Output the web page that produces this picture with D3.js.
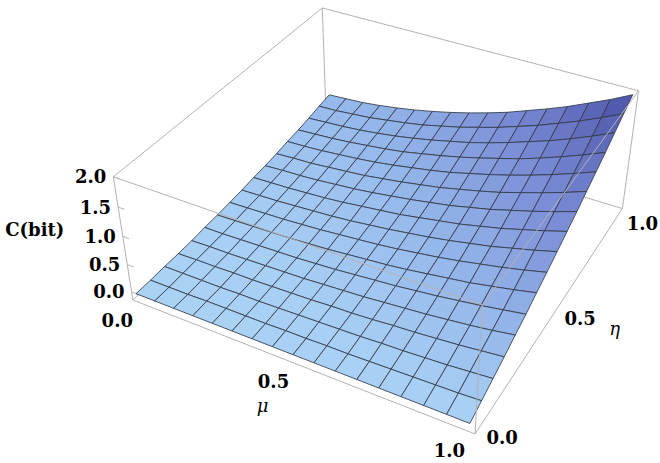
<!DOCTYPE html>
<html>
    <head>
        <meta charset="utf-8" />
        <title>C(bit) surface</title>
        <script src="https://d3js.org/d3.v7.min.js"></script>
        <style>
            body {
                margin: 0;
                background: #fff;
            }
            text {
                font-family: 'DejaVu Serif', serif;
            }
            .tick-label,
            .z-title {
                font-size: 18px;
                font-weight: bold;
            }
            .axis-title {
                font-size: 18px;
                font-style: italic;
            }
            .box-edge {
                fill: none;
                stroke: #b3b3b3;
                stroke-width: 1px;
            }
            .cell {
                stroke: #323a48;
                stroke-width: 0.85px;
                stroke-linejoin: round;
            }
        </style>
    </head>
    <body>
        <script>
            // grid of the surface (17 x 17 nodes)
            const muGrid = [0, 0.0625, 0.125, 0.1875, 0.25, 0.3125, 0.375, 0.4375, 0.5, 0.5625, 0.625, 0.6875, 0.75, 0.8125, 0.875, 0.9375, 1];
            const etaGrid = [0, 0.0625, 0.125, 0.1875, 0.25, 0.3125, 0.375, 0.4375, 0.5, 0.5625, 0.625, 0.6875, 0.75, 0.8125, 0.875, 0.9375, 1];

            // capacity[j][k] = C at eta = etaGrid[j], mu = muGrid[k]
            const capacity = [
                [0, 0, 0, 0, 0, 0, 0, 0, 0, 0, 0, 0, 0, 0, 0, 0, 0],
                [0.0, 0.0, 0.0, 0.01, 0.01, 0.01, 0.01, 0.02, 0.02, 0.03, 0.03, 0.04, 0.05, 0.06, 0.07, 0.08, 0.1],
                [0.01, 0.01, 0.01, 0.01, 0.02, 0.02, 0.03, 0.04, 0.05, 0.06, 0.07, 0.09, 0.1, 0.12, 0.14, 0.17, 0.2],
                [0.01, 0.02, 0.02, 0.03, 0.03, 0.04, 0.05, 0.06, 0.08, 0.09, 0.11, 0.14, 0.16, 0.19, 0.22, 0.26, 0.3],
                [0.02, 0.03, 0.03, 0.04, 0.05, 0.06, 0.07, 0.09, 0.11, 0.13, 0.16, 0.19, 0.22, 0.26, 0.3, 0.35, 0.41],
                [0.04, 0.04, 0.05, 0.06, 0.07, 0.08, 0.1, 0.12, 0.15, 0.18, 0.21, 0.25, 0.29, 0.34, 0.39, 0.45, 0.51],
                [0.05, 0.06, 0.07, 0.08, 0.09, 0.11, 0.13, 0.16, 0.19, 0.22, 0.26, 0.31, 0.36, 0.41, 0.48, 0.55, 0.63],
                [0.07, 0.08, 0.09, 0.1, 0.12, 0.14, 0.17, 0.2, 0.23, 0.27, 0.32, 0.37, 0.43, 0.5, 0.57, 0.65, 0.74],
                [0.09, 0.1, 0.11, 0.13, 0.15, 0.17, 0.2, 0.24, 0.28, 0.33, 0.38, 0.44, 0.51, 0.58, 0.67, 0.76, 0.86],
                [0.12, 0.13, 0.14, 0.16, 0.18, 0.21, 0.25, 0.29, 0.33, 0.39, 0.45, 0.51, 0.59, 0.67, 0.77, 0.87, 0.98],
                [0.14, 0.16, 0.17, 0.19, 0.22, 0.25, 0.29, 0.34, 0.39, 0.45, 0.51, 0.59, 0.67, 0.77, 0.87, 0.98, 1.1],
                [0.17, 0.19, 0.2, 0.23, 0.26, 0.29, 0.34, 0.39, 0.45, 0.51, 0.59, 0.67, 0.76, 0.87, 0.98, 1.1, 1.23],
                [0.21, 0.22, 0.24, 0.27, 0.3, 0.34, 0.39, 0.45, 0.51, 0.58, 0.67, 0.76, 0.86, 0.97, 1.09, 1.22, 1.36],
                [0.24, 0.26, 0.28, 0.31, 0.35, 0.39, 0.44, 0.51, 0.58, 0.66, 0.75, 0.85, 0.95, 1.07, 1.2, 1.34, 1.49],
                [0.28, 0.3, 0.32, 0.35, 0.39, 0.44, 0.5, 0.57, 0.65, 0.73, 0.83, 0.94, 1.06, 1.18, 1.32, 1.47, 1.63],
                [0.33, 0.34, 0.37, 0.4, 0.45, 0.5, 0.56, 0.64, 0.72, 0.82, 0.92, 1.04, 1.16, 1.3, 1.44, 1.6, 1.77],
                [0.37, 0.39, 0.41, 0.45, 0.5, 0.56, 0.63, 0.71, 0.8, 0.9, 1.01, 1.14, 1.27, 1.41, 1.57, 1.73, 1.91]
            ];

            const muTicks = [0, 0.5, 1];
            const etaTicks = [0, 0.5, 1];
            const zTicks = [0, 0.5, 1, 1.5, 2];

            const width = 660,
                height = 463;

            // camera: mathematica default view point, box ratios 1:1:0.4
            const eye = [1.3, -2.4, 2.0];
            const boxRatios = [1, 1, 0.4];
            const zoomFactor = 1262;
            const screenCenter = [389, 194];

            const xBox = d3.scaleLinear().domain([-0.015, 1.015]).range([-boxRatios[0] / 2, boxRatios[0] / 2]);
            const yBox = d3.scaleLinear().domain([0, 1]).range([-boxRatios[1] / 2, boxRatios[1] / 2]);
            const zBox = d3.scaleLinear().domain([-0.15, 2.0]).range([-boxRatios[2] / 2, boxRatios[2] / 2]);

            const dot = (a, b) => a[0] * b[0] + a[1] * b[1] + a[2] * b[2];
            const cross = (a, b) => [a[1] * b[2] - a[2] * b[1], a[2] * b[0] - a[0] * b[2], a[0] * b[1] - a[1] * b[0]];
            const unit = (a) => {
                const n = Math.hypot(a[0], a[1], a[2]);
                return a.map((v) => v / n);
            };

            const forward = unit(eye.map((v) => -v));
            const right = unit(cross(forward, [0, 0, 1]));
            const up = cross(right, forward);

            function project(mu, eta, c) {
                const d = [xBox(mu) - eye[0], yBox(eta) - eye[1], zBox(c) - eye[2]];
                const depth = dot(d, forward);
                return {
                    x: screenCenter[0] + (zoomFactor * dot(d, right)) / depth,
                    y: screenCenter[1] - (zoomFactor * dot(d, up)) / depth,
                    depth: depth
                };
            }

            const color = d3
                .scaleLinear()
                .domain([0, 0.4, 1.0, 1.9])
                .range(['#aad2f5', '#94b6ea', '#7a8cd5', '#4a50a5'])
                .interpolate(d3.interpolateRgb)
                .clamp(true);

            const svg = d3.select('body').append('svg').attr('width', width).attr('height', height);

            const path = d3
                .line()
                .x((p) => p.x)
                .y((p) => p.y);

            // box
            const [m0, m1] = xBox.domain();
            const [e0, e1] = yBox.domain();
            const [z0, z1] = zBox.domain();
            const corners = [
                [m0, e0],
                [m1, e0],
                [m1, e1],
                [m0, e1]
            ];
            const edges = [];
            corners.forEach((a, i) => {
                const b = corners[(i + 1) % 4];
                edges.push([[a[0], a[1], z0], [b[0], b[1], z0]]);
                edges.push([[a[0], a[1], z1], [b[0], b[1], z1]]);
                edges.push([[a[0], a[1], z0], [a[0], a[1], z1]]);
            });
            const isFront = (edge) => edge.some((p) => p[0] === m1 && p[1] === e0);

            function drawEdges(list) {
                svg.append('g')
                    .selectAll('path')
                    .data(list)
                    .join('path')
                    .attr('class', 'box-edge')
                    .attr('d', (edge) => path(edge.map((p) => project(p[0], p[1], p[2]))));
            }

            drawEdges(edges.filter((e) => !isFront(e)));

            // small ticks on the vertical axis
            svg.append('g')
                .selectAll('path')
                .data(zTicks)
                .join('path')
                .attr('class', 'box-edge')
                .attr('d', (c) => path([project(m0, e0, c), project(m0 + 0.02, e0, c)]));

            // surface cells, back to front
            const cells = [];
            for (let j = 0; j < etaGrid.length - 1; j++) {
                for (let k = 0; k < muGrid.length - 1; k++) {
                    const nodes = [
                        [k, j],
                        [k + 1, j],
                        [k + 1, j + 1],
                        [k, j + 1]
                    ];
                    const pts = nodes.map(([a, b]) => project(muGrid[a], etaGrid[b], capacity[b][a]));
                    cells.push({
                        pts: pts,
                        depth: d3.mean(pts, (p) => p.depth),
                        value: d3.mean(nodes, ([a, b]) => capacity[b][a])
                    });
                }
            }
            cells.sort((a, b) => b.depth - a.depth);

            svg.append('g')
                .selectAll('path')
                .data(cells)
                .join('path')
                .attr('class', 'cell')
                .attr('fill', (d) => color(d.value))
                .attr('d', (d) => path(d.pts) + 'Z');

            drawEdges(edges.filter(isFront));

            // tick labels
            const fmt = d3.format('.1f');
            const labels = svg.append('g').attr('class', 'tick-label');

            // label offsets drift a little along the eta edge
            const etaDx = d3.scaleLinear().domain([0, 1]).range([27, 20]);
            const etaDy = d3.scaleLinear().domain([0, 1]).range([4, 15]);

            labels
                .selectAll('.mu')
                .data(muTicks)
                .join('text')
                .attr('class', 'mu')
                .attr('text-anchor', 'middle')
                .attr('dominant-baseline', 'central')
                .attr('x', (m) => project(m, e0, z0).x - 20)
                .attr('y', (m) => project(m, e0, z0).y + 19)
                .text(fmt);

            labels
                .selectAll('.eta')
                .data(etaTicks)
                .join('text')
                .attr('class', 'eta')
                .attr('text-anchor', 'middle')
                .attr('dominant-baseline', 'central')
                .attr('x', (e) => project(m1, e, z0).x + etaDx(e))
                .attr('y', (e) => project(m1, e, z0).y + etaDy(e))
                .text(fmt);

            labels
                .selectAll('.z')
                .data(zTicks)
                .join('text')
                .attr('class', 'z')
                .attr('text-anchor', 'end')
                .attr('dominant-baseline', 'central')
                .attr('x', (c) => project(m0, e0, c).x - 7)
                .attr('y', (c) => project(m0, e0, c).y)
                .text(fmt);

            // axis titles
            const muMid = project(0.5, e0, z0);
            svg.append('text')
                .attr('class', 'axis-title')
                .attr('text-anchor', 'middle')
                .attr('dominant-baseline', 'central')
                .attr('x', muMid.x - 31)
                .attr('y', muMid.y + 43)
                .text('μ');

            const etaMid = project(m1, 0.5, z0);
            svg.append('text')
                .attr('class', 'axis-title')
                .attr('text-anchor', 'middle')
                .attr('dominant-baseline', 'central')
                .attr('x', etaMid.x + 58)
                .attr('y', etaMid.y + 19)
                .text('η');

            const zMid = project(m0, e0, 1.0);
            svg.append('text')
                .attr('class', 'z-title')
                .attr('text-anchor', 'middle')
                .attr('dominant-baseline', 'central')
                .attr('x', zMid.x - 88)
                .attr('y', zMid.y - 7)
                .text('C(bit)');
        </script>
    </body>
</html>
